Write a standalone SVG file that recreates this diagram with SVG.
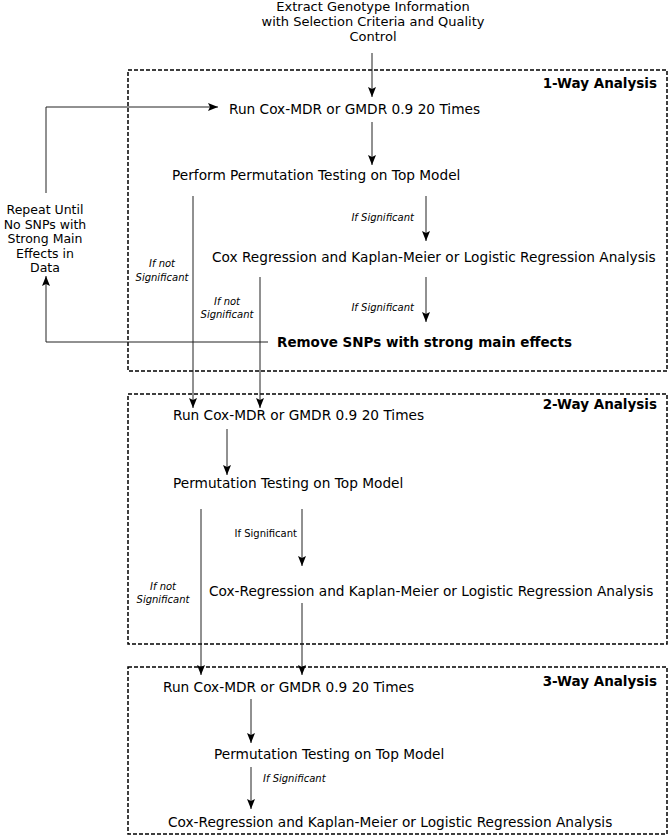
<svg xmlns="http://www.w3.org/2000/svg" width="671" height="837" viewBox="0 0 671 837">
<defs>
<marker id="ah" markerWidth="10" markerHeight="8" refX="10" refY="4" orient="auto" markerUnits="userSpaceOnUse">
<path d="M0,0 L10,4 L0,8 L2,4 z" fill="#000"/>
</marker>
<style>
text{font-family:"DejaVu Sans","Liberation Sans",sans-serif;fill:#000}
.m{font-size:13.7px}
.t{font-size:13px;text-anchor:middle}
.l{font-size:12.5px;text-anchor:middle}
.b{font-size:13.5px;font-weight:bold}
.h{font-size:13.5px;font-weight:bold;text-anchor:end}
.s{font-size:10px;font-style:italic}
.sc{font-size:10px;font-style:italic;text-anchor:middle}
.sn{font-size:10px}
.box{fill:none;stroke:#000;stroke-width:1.5;stroke-dasharray:4 2}
.a{fill:none;stroke:#222;stroke-width:1;marker-end:url(#ah)}
</style>
</defs>
<rect width="671" height="837" fill="#fff"/>
<g id="box1"><rect class="box" x="128" y="70" width="539" height="301"/><text class="h" x="657" y="88">1-Way Analysis</text></g>
<g id="box2"><rect class="box" x="128" y="394" width="539" height="250"/><text class="h" x="657" y="409">2-Way Analysis</text></g>
<g id="box3"><rect class="box" x="128" y="667" width="539" height="167"/><text class="h" x="657" y="686">3-Way Analysis</text></g>

<g id="start"><text class="t" x="373" y="11">Extract Genotype Information</text><text class="t" x="373" y="26">with Selection Criteria and Quality</text><text class="t" x="373" y="41">Control</text></g>
<g id="n1run"><text class="m" x="229" y="114">Run Cox-MDR or GMDR 0.9 20 Times</text></g>
<g id="n1perm"><text class="m" x="172" y="180">Perform Permutation Testing on Top Model</text></g>
<g id="n1cox"><text class="m" x="212" y="262">Cox Regression and Kaplan-Meier or Logistic Regression Analysis</text></g>
<g id="n1remove"><text class="b" x="277" y="347">Remove SNPs with strong main effects</text></g>
<g id="repeat"><text class="l" x="45" y="214">Repeat Until</text><text class="l" x="45" y="228.5">No SNPs with</text><text class="l" x="45" y="243">Strong Main</text><text class="l" x="45" y="257.5">Effects in</text><text class="l" x="45" y="272">Data</text></g>
<g id="n2run"><text class="m" x="173" y="420">Run Cox-MDR or GMDR 0.9 20 Times</text></g>
<g id="n2perm"><text class="m" x="173" y="488">Permutation Testing on Top Model</text></g>
<g id="n2cox"><text class="m" x="209" y="596">Cox-Regression and Kaplan-Meier or Logistic Regression Analysis</text></g>
<g id="n3run"><text class="m" x="163" y="692">Run Cox-MDR or GMDR 0.9 20 Times</text></g>
<g id="n3perm"><text class="m" x="214" y="759">Permutation Testing on Top Model</text></g>
<g id="n3cox"><text class="m" x="168" y="827">Cox-Regression and Kaplan-Meier or Logistic Regression Analysis</text></g>

<g id="connectors">
<line class="a" x1="372" y1="53" x2="372" y2="97"/>
<polyline class="a" points="46,193 46,107 218,107"/>
<line class="a" x1="372" y1="122" x2="372" y2="165"/>
<line class="a" x1="193" y1="196" x2="193" y2="408"/>
<line class="a" x1="426" y1="196" x2="426" y2="241"/>
<line class="a" x1="260" y1="277" x2="260" y2="408"/>
<line class="a" x1="426" y1="277" x2="426" y2="322"/>
<polyline class="a" points="268,342 46,342 46,276"/>
<line class="a" x1="227" y1="429" x2="227" y2="475"/>
<line class="a" x1="201" y1="509" x2="201" y2="675"/>
<line class="a" x1="302" y1="509" x2="302" y2="566"/>
<line class="a" x1="302" y1="603" x2="302" y2="675"/>
<line class="a" x1="251" y1="699" x2="251" y2="743"/>
<line class="a" x1="251" y1="767" x2="251" y2="809"/>
</g>
<g id="labels">
<text class="s" x="414" y="221" text-anchor="end">If Significant</text>
<text class="sc" x="162" y="267">If not</text><text class="sc" x="162" y="281">Significant</text>
<text class="sc" x="227" y="305">If not</text><text class="sc" x="227" y="318">Significant</text>
<text class="s" x="414" y="311" text-anchor="end">If Significant</text>
<text class="sn" x="297" y="537" text-anchor="end">If Significant</text>
<text class="sc" x="163" y="590">If not</text><text class="sc" x="163" y="603">Significant</text>
<text class="s" x="263" y="782">If Significant</text>
</g>
</svg>
